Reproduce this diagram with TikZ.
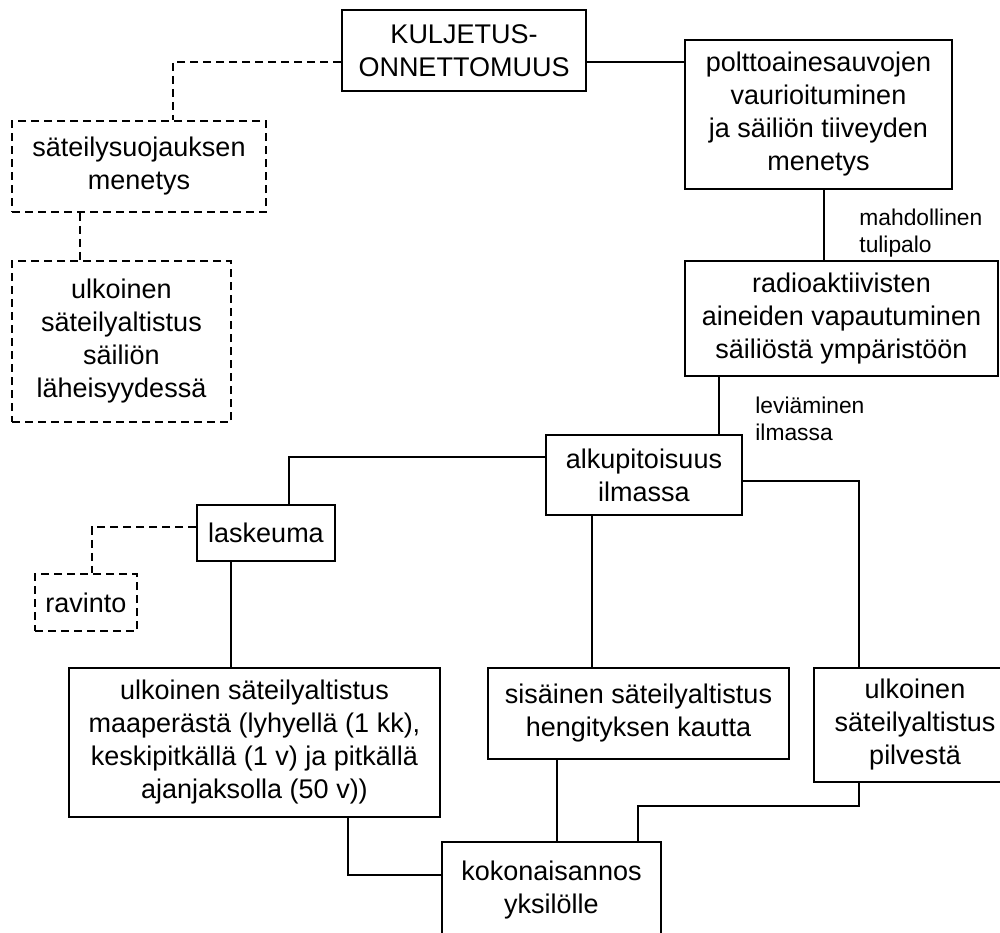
\documentclass[tikz,border=0pt]{standalone}
\usepackage{fontspec}
\setmainfont{Liberation Sans}
\usetikzlibrary{positioning}

\begin{document}
\begin{tikzpicture}[x=0.5pt, y=-0.5pt,
  box/.style={draw, line width=0.85pt, align=center, inner sep=0pt,
    font=\fontsize{13.5}{16.5}\selectfont},
  dbox/.style={box, dash pattern=on 4pt off 2.5pt},
  sline/.style={line width=0.85pt},
  dline/.style={line width=0.85pt, dash pattern=on 4pt off 2.5pt},
  lbl/.style={align=left, anchor=west, inner sep=0pt,
    font=\fontsize{11.4}{13.5}\selectfont}]
\useasboundingbox (0,0) rectangle (1000,932);
\clip (0,0) rectangle (1000,932);

\node[box, minimum width=122pt, minimum height=40.5pt] (kulj) at (464,50.5) {KULJETUS-\\ONNETTOMUUS};
\node[box, minimum width=133.5pt, minimum height=74.5pt] (polt) at (818.5,114.5) {polttoainesauvojen\\vaurioituminen\\ja säiliön tiiveyden\\menetys};
\node[box, minimum width=156.5pt, minimum height=57.5pt] (vapa) at (841.5,318.5) {radioaktiivisten\\aineiden vapautuminen\\säiliöstä ympäristöön};
\node[dbox, minimum width=127pt, minimum height=45.5pt] (suoj) at (139,166.5) {säteilysuojauksen\\menetys};
\node[dbox, minimum width=109.5pt, minimum height=80.5pt] (sail) at (121.5,341.5) {ulkoinen\\säteilyaltistus\\säiliön\\läheisyydessä};
\node[box, minimum width=98pt, minimum height=40pt] (alku) at (644,475) {alkupitoisuus\\ilmassa};
\node[box, minimum width=69pt, minimum height=28pt] (lask) at (266,533) {laskeuma};
\node[dbox, minimum width=51pt, minimum height=28.5pt] (ravi) at (86,602.5) {ravinto};
\node[box, minimum width=185.5pt, minimum height=74.5pt] (maap) at (254.5,742.5) {ulkoinen säteilyaltistus\\maaperästä (lyhyellä (1 kk),\\keskipitkällä (1 v) ja pitkällä\\ajanjaksolla (50 v))};
\node[box, minimum width=150.5pt, minimum height=45.5pt] (sisa) at (638.5,713.5) {sisäinen säteilyaltistus\\hengityksen kautta};
\node[box, minimum width=101pt, minimum height=57pt] (pilv) at (915,725) {ulkoinen\\säteilyaltistus\\pilvestä};
\node[box, minimum width=109.5pt, minimum height=48pt] (koko) at (551.5,890) {kokonaisannos\\yksilölle};

\node[lbl] (tuli) at (859,233.5) {mahdollinen\\tulipalo};
\node[lbl] (levi) at (755,419) {leviäminen\\ilmassa};

\draw[dline] (kulj.west |- 0,62) -| (173,0 |- suoj.north);
\draw[dline] (80,0 |- suoj.south) -- (80,0 |- sail.north);
\draw[sline] (kulj.east |- 0,62) -- (polt.west |- 0,62);
\draw[sline] (824,0 |- polt.south) -- (824,0 |- vapa.north);
\draw[sline] (719,0 |- vapa.south) -- (719,0 |- alku.north);
\draw[sline] (alku.west |- 0,457) -| (289,0 |- lask.north);
\draw[dline] (lask.west |- 0,527) -| (92,0 |- ravi.north);
\draw[sline] (231,0 |- lask.south) -- (231,0 |- maap.north);
\draw[sline] (348,0 |- maap.south) |- (koko.west |- 0,875);
\draw[sline] (592,0 |- alku.south) -- (592,0 |- sisa.north);
\draw[sline] (alku.east |- 0,481) -| (859,0 |- pilv.north);
\draw[sline] (557,0 |- sisa.south) -- (557,0 |- koko.north);
\draw[sline] (859,0 |- pilv.south) -- (859,806) -| (638,0 |- koko.north);
\end{tikzpicture}
\end{document}
